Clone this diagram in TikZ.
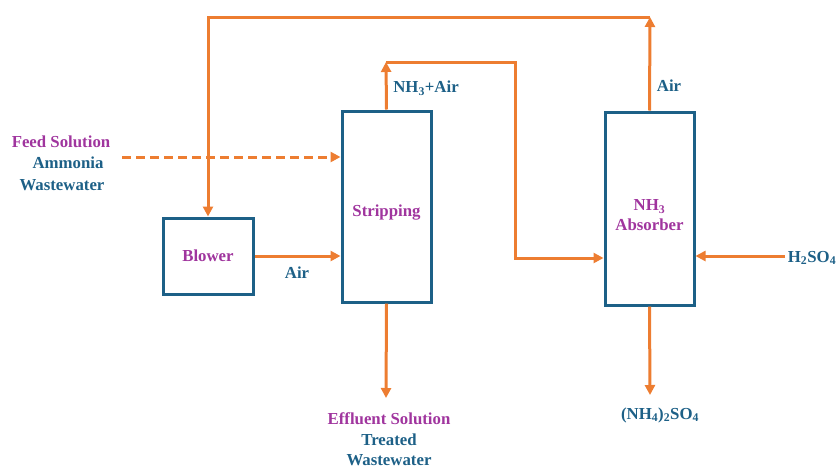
\documentclass[tikz,border=0pt]{standalone}
\usepackage{fontspec}
\setmainfont{Liberation Serif}
\usetikzlibrary{arrows.meta}
\definecolor{flow}{HTML}{ED7D31}
\definecolor{boxblue}{HTML}{1D6087}
\definecolor{txtblue}{HTML}{1D6087}
\definecolor{txtpurple}{HTML}{A0359E}
\begin{document}
\begin{tikzpicture}[x=1pt,y=-1pt,
  unit/.style={draw=boxblue,line width=3pt,fill=white,inner sep=0pt,font=\bfseries\fontsize{16.8}{20}\selectfont,text=txtpurple,align=center},
  lbl/.style={font=\bfseries\fontsize{16.8}{20}\selectfont,text=txtblue,inner sep=0pt,align=center},
  plbl/.style={lbl,text=txtpurple},
  flowline/.style={draw=flow,line width=3pt},
  arr/.style={flowline,-{Triangle[length=10pt,width=10pt]}}]
\useasboundingbox (0,0) rectangle (837,469);
% units
\node[unit,minimum width=90pt,minimum height=76pt] (blower) at (208,256) {Blower};
\node[unit,minimum width=89pt,minimum height=191pt] (stripping) at (386.5,206.5) {\raisebox{-6pt}[\height][\depth]{Stripping}};
\node[unit,minimum width=89pt,minimum height=193pt] (absorber) at (649.5,208.5) {\mbox{}\\[4pt]NH\textsubscript{3}\\Absorber};
% labels
\node[lbl] (feed1) at (61,142) {\textcolor{txtpurple}{Feed Solution}};
\node[lbl] (feed2) at (68,163) {Ammonia};
\node[lbl] (feed3) at (62,185) {Wastewater};
\node[lbl] (airb) at (297,273) {Air};
\node[lbl] (nh3air) at (426,88) {NH\textsubscript{3}+Air};
\node[lbl] (aira) at (669,86) {Air};
\node[lbl] (h2so4) at (812,258) {H\textsubscript{2}SO\textsubscript{4}};
\node[plbl] (eff1) at (389,419) {Effluent Solution};
\node[lbl] (eff2) at (389,440) {Treated};
\node[lbl] (eff3) at (389,460) {Wastewater};
\node[lbl] (nh4) at (660,415) {(NH\textsubscript{4})\textsubscript{2}SO\textsubscript{4}};
% coordinates
\coordinate (t1) at (650,17);
\coordinate (t2) at (208,17);
\coordinate (s1) at (386,62);
\coordinate (s2) at (515,62);
\coordinate (s3) at (515,258);
\coordinate (fs) at (122,157);
\coordinate (hs) at (785,256);
\coordinate (sb) at (386,398);
\coordinate (ab) at (650,395);
% connectors
\draw[arr] (absorber.north) -- (t1);
\draw[arr] (t1) -- (t2) -- (blower.north);
\draw[arr] (stripping.north) -- (s1);
\draw[arr] (s1) -- (s2) -- (s3) -- (s3 -| absorber.west);
\draw[arr] (blower.east) -- (blower.east -| stripping.west);
\draw[arr,dash pattern=on 9pt off 5pt] (fs) -- (fs -| stripping.west);
\draw[arr] (hs) -- (hs -| absorber.east);
\draw[arr] (stripping.south) -- (sb);
\draw[arr] (absorber.south) -- (ab);
\end{tikzpicture}
\end{document}
